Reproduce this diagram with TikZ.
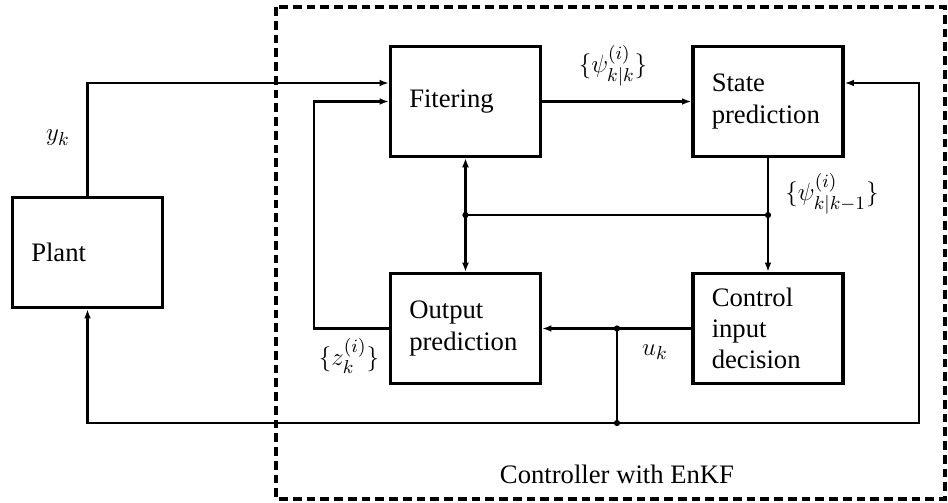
\documentclass[tikz,border=0pt]{standalone}
\usepackage[no-math]{fontspec}
\setmainfont{Liberation Serif}
\usetikzlibrary{arrows.meta}

\begin{document}
\begin{tikzpicture}[
   x=0.48pt, y=-0.48pt,
   every node/.style={font=\fontsize{12.8}{15}\selectfont},
   block/.style={draw, line width=1.6pt, minimum width=72pt, minimum height=52.8pt,
                 text width=54pt, align=left, inner xsep=9pt, inner ysep=0pt},
   conn/.style={line width=1.05pt},
   arr/.style={conn, -{Latex[length=4.4pt, width=3.2pt]}},
   bus/.style={line width=1.5pt, -{Latex[length=4.4pt, width=3.4pt]}},
   dot/.style={circle, fill, inner sep=0pt, minimum size=3pt},
   frame/.style={line width=1.8pt, dash pattern=on 4.2pt off 2.4pt}]

\useasboundingbox (0,0) rectangle (948,502);

\draw[frame] (276,7) rectangle (945,499);

\node[block] (plant) at (87.5,252.5) {Plant};
\node[block] (fit)   at (465.5,101.5) {Fitering};
\node[block] (state) at (768,101.5) {State\\prediction};
\node[block] (out)   at (465.5,328.5) {Output\\prediction};
\node[block] (ctrl)  at (768,328.5) {Control\\input\\decision};

\coordinate (yk) at (0,83);
\coordinate (fb) at (314,328.5);
\coordinate (jl) at (465.5,215);
\coordinate (jr) at (768,215);
\coordinate (ju) at (617,328.5);
\coordinate (jb) at (617,423);
\coordinate (rc) at (919,423);

\draw[arr] (plant.north) |- (fit.west |- yk);
\draw[arr] (fit) -- (state);
\draw[arr] (out.west) -- (fb) |- (fit.west);
\draw[conn] (state.south) -- (jr) -- (jl);
\draw[arr] (jr) -- (ctrl.north);
\draw[bus] (jl) -- (fit.south);
\draw[bus] (jl) -- (out.north);
\draw[arr] (ctrl.west) -- (out.east);
\draw[conn] (ju) -- (jb);
\draw[arr] (jb) -| (plant.south);
\draw[arr] (jb) -- (rc) |- (state.east |- yk);

\node[dot] (d1) at (jl) {};
\node[dot] (d2) at (jr) {};
\node[dot] (d3) at (ju) {};
\node[dot] (d4) at (jb) {};

\node (lyk)  at (58,138)  {$y_k$};
\node (lpk)  at (613,66)  {$\{\psi^{(i)}_{k|k}\}$};
\node (lpk1) at (832,194) {$\{\psi^{(i)}_{k|k-1}\}$};
\node (lz)   at (349,356) {$\{z^{(i)}_k\}$};
\node (lu)   at (655,352) {$u_k$};
\node (lenk) at (617,474) {Controller with EnKF};

\end{tikzpicture}
\end{document}
